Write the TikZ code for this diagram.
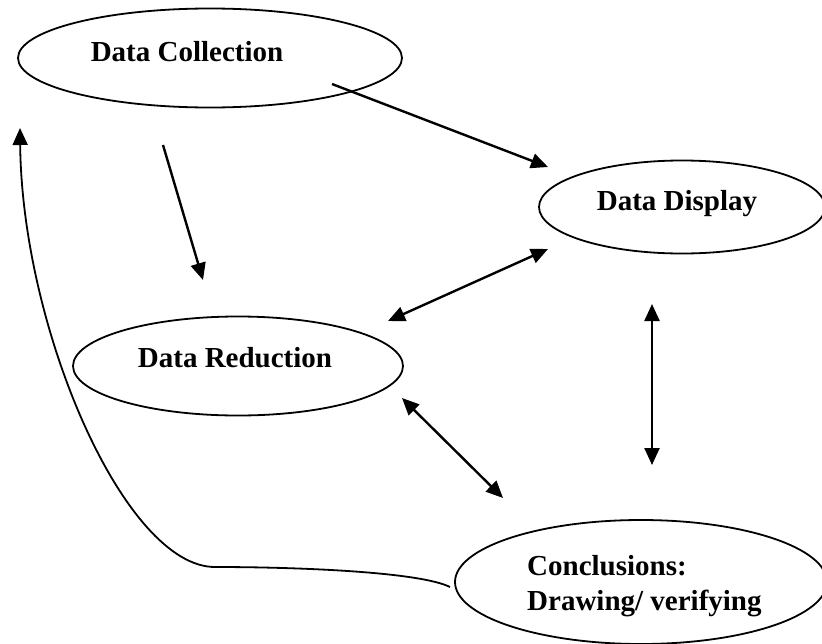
\documentclass[tikz,border=0pt]{standalone}
\usepackage{fontspec}
\setmainfont{Liberation Serif}
\usetikzlibrary{shapes.geometric,arrows.meta}
\begin{document}
\begin{tikzpicture}[x=1pt,y=-1pt,
  stage/.style={draw=black,line width=1.8pt,ellipse,inner sep=0pt,fill=white},
  lbl/.style={font=\fontsize{29}{35}\selectfont\bfseries,inner sep=0pt,align=left},
  tip/.tip={Triangle[length=17pt,width=15pt]},
  arr/.style={line width=2.4pt,-tip},
  darr/.style={line width=2.4pt,tip-tip}]
\useasboundingbox (0,0) rectangle (822,643);
\clip (0,0) rectangle (822,643);
\fill[white] (0,0) rectangle (822,643);
% ellipses
\node[stage,minimum width=384pt,minimum height=99pt] (coll) at (210,58) {};
\node[stage,minimum width=286pt,minimum height=93pt] (disp) at (682,207) {};
\node[stage,minimum width=330pt,minimum height=99pt] (red) at (238,366) {};
\node[stage,minimum width=372pt,minimum height=124pt] (conc) at (641,582) {};
% texts
\node[lbl,anchor=base] (tcoll) at (187,61) {Data Collection};
\node[lbl,anchor=base] (tdisp) at (677,210) {Data Display};
\node[lbl,anchor=base] (tred) at (235,367) {Data Reduction};
\node[lbl,anchor=base west] (tconc1) at (527,575) {Conclusions:};
\node[lbl,anchor=base west] (tconc2) at (527,610) {Drawing/ verifying};
% connector end points
\coordinate (c1) at (332,84);
\coordinate (d1) at (548,167);
\coordinate (c2) at (163,145);
\coordinate (r1) at (203,280);
\coordinate (r2) at (388,321);
\coordinate (d2) at (548,249);
\coordinate (d3) at (652,304);
\coordinate (k1) at (652,465);
\coordinate (r3) at (402,398);
\coordinate (k2) at (503,498);
\coordinate (k3) at (450,587);
\coordinate (bend) at (215,567);
\coordinate (c3) at (20,128);
% connectors
\draw[arr] (c1) -- (d1);
\draw[arr] (c2) -- (r1);
\draw[darr] (r2) -- (d2);
\draw[darr] (d3) -- (k1);
\draw[darr] (r3) -- (k2);
\draw[arr,line width=1.8pt] (k3) .. controls (420,572) and (300,567) .. (bend)
   .. controls (125,567) and (22,330) .. (c3);
\end{tikzpicture}
\end{document}
